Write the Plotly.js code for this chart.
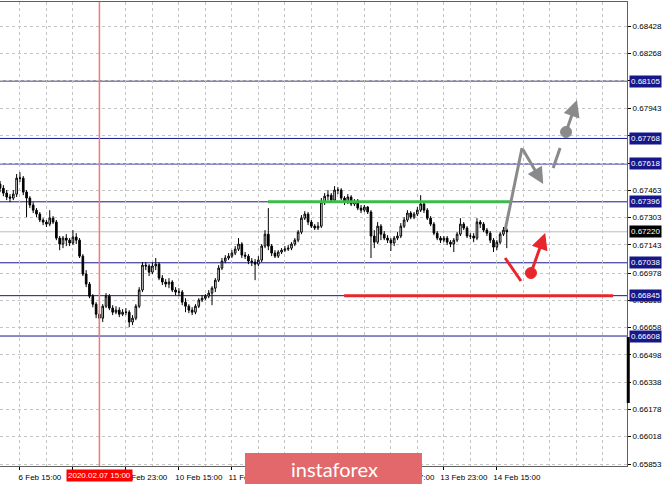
<!DOCTYPE html>
<html><head><meta charset="utf-8">
<script src="https://cdn.plot.ly/plotly-3.0.1.min.js"></script>
<style>html,body{margin:0;padding:0;background:#fff;}#chart{width:665px;height:484px;}</style>
</head><body><div id="chart"></div>
<script>
// Hourly candles, 6 Feb 09:00 .. 14 Feb 17:00 (weekend skipped)
const openP = [0.67500,0.67476,0.67447,0.67424,0.67418,0.67441,0.67535,0.67535,0.67453,0.67418,
0.67377,0.67347,0.67324,0.67289,0.67277,0.67265,0.67300,0.67277,0.67183,0.67148,
0.67183,0.67171,0.67154,0.67189,0.67171,0.67077,0.66972,0.66913,0.66842,0.66795,
0.66736,0.66713,0.66783,0.66842,0.66772,0.66748,0.66760,0.66736,0.66748,0.66748,
0.66690,0.66713,0.66783,0.66878,0.67024,0.67019,0.66983,0.67019,0.67030,0.66948,
0.66925,0.66913,0.66925,0.66878,0.66866,0.66866,0.66807,0.66783,0.66760,0.66748,
0.66783,0.66819,0.66830,0.66842,0.66860,0.66889,0.66936,0.67007,0.67048,0.67066,
0.67077,0.67095,0.67118,0.67148,0.67083,0.67077,0.67048,0.67042,0.67030,0.67054,
0.67136,0.67206,0.67136,0.67095,0.67077,0.67101,0.67112,0.67118,0.67124,0.67148,
0.67171,0.67218,0.67300,0.67324,0.67277,0.67253,0.67242,0.67253,0.67394,0.67429,
0.67435,0.67406,0.67465,0.67465,0.67418,0.67394,0.67424,0.67383,0.67400,0.67359,
0.67347,0.67365,0.67336,0.67195,0.67159,0.67253,0.67206,0.67183,0.67171,0.67154,
0.67183,0.67195,0.67253,0.67289,0.67330,0.67306,0.67324,0.67347,0.67383,0.67347,
0.67300,0.67265,0.67212,0.67183,0.67171,0.67183,0.67159,0.67148,0.67171,0.67206,
0.67265,0.67242,0.67195,0.67195,0.67183,0.67277,0.67265,0.67230,0.67212,0.67171,
0.67130,0.67159,0.67206,0.67230];
const highP = [0.67518,0.67494,0.67465,0.67441,0.67465,0.67559,0.67570,0.67547,0.67465,0.67429,
0.67394,0.67359,0.67336,0.67300,0.67289,0.67347,0.67312,0.67289,0.67195,0.67195,
0.67206,0.67183,0.67230,0.67212,0.67183,0.67089,0.66995,0.66925,0.66854,0.66807,
0.66760,0.66795,0.66860,0.66854,0.66789,0.66783,0.66777,0.66766,0.66772,0.66760,
0.66731,0.66795,0.66895,0.67042,0.67042,0.67030,0.67042,0.67066,0.67042,0.66966,
0.66942,0.66948,0.66936,0.66895,0.66889,0.66878,0.66830,0.66795,0.66777,0.66795,
0.66830,0.66848,0.66854,0.66878,0.66901,0.66948,0.67024,0.67066,0.67083,0.67095,
0.67112,0.67136,0.67183,0.67159,0.67101,0.67089,0.67066,0.67060,0.67077,0.67148,
0.67230,0.67359,0.67148,0.67112,0.67112,0.67124,0.67136,0.67142,0.67159,0.67183,
0.67230,0.67318,0.67341,0.67336,0.67289,0.67265,0.67277,0.67418,0.67447,0.67465,
0.67447,0.67488,0.67482,0.67476,0.67429,0.67441,0.67435,0.67412,0.67412,0.67377,
0.67377,0.67371,0.67347,0.67230,0.67277,0.67265,0.67224,0.67200,0.67183,0.67195,
0.67218,0.67271,0.67306,0.67347,0.67341,0.67336,0.67365,0.67435,0.67394,0.67359,
0.67312,0.67277,0.67224,0.67195,0.67195,0.67195,0.67171,0.67183,0.67218,0.67300,
0.67277,0.67253,0.67212,0.67212,0.67300,0.67289,0.67277,0.67242,0.67224,0.67183,
0.67171,0.67218,0.67248,0.67242];
const lowP = [0.67453,0.67429,0.67406,0.67394,0.67406,0.67424,0.67512,0.67435,0.67306,0.67359,
0.67330,0.67306,0.67277,0.67259,0.67248,0.67253,0.67265,0.67171,0.67112,0.67124,
0.67136,0.67136,0.67142,0.67148,0.67066,0.66960,0.66895,0.66830,0.66777,0.66713,
0.66613,0.66690,0.66772,0.66760,0.66731,0.66736,0.66719,0.66725,0.66731,0.66660,
0.66672,0.66701,0.66772,0.66866,0.66995,0.66960,0.66972,0.66995,0.66936,0.66907,
0.66895,0.66889,0.66866,0.66848,0.66842,0.66789,0.66748,0.66742,0.66731,0.66736,
0.66772,0.66807,0.66819,0.66830,0.66789,0.66866,0.66925,0.66995,0.67036,0.67054,
0.67066,0.67083,0.67107,0.67066,0.67060,0.67030,0.67019,0.66936,0.67019,0.67042,
0.67124,0.67112,0.67077,0.67066,0.67066,0.67089,0.67101,0.67107,0.67112,0.67136,
0.67159,0.67206,0.67289,0.67259,0.67242,0.67230,0.67230,0.67242,0.67377,0.67406,
0.67394,0.67394,0.67441,0.67406,0.67377,0.67383,0.67371,0.67371,0.67347,0.67330,
0.67336,0.67324,0.67066,0.67124,0.67148,0.67171,0.67171,0.67154,0.67107,0.67136,
0.67171,0.67183,0.67242,0.67277,0.67294,0.67294,0.67312,0.67336,0.67330,0.67289,
0.67253,0.67200,0.67171,0.67154,0.67159,0.67142,0.67130,0.67101,0.67159,0.67195,
0.67230,0.67183,0.67177,0.67159,0.67171,0.67242,0.67218,0.67195,0.67154,0.67101,
0.67112,0.67148,0.67195,0.67124];
const closeP = [0.67476,0.67447,0.67424,0.67418,0.67441,0.67535,0.67535,0.67453,0.67418,0.67377,
0.67347,0.67324,0.67289,0.67277,0.67265,0.67300,0.67277,0.67183,0.67148,0.67183,
0.67171,0.67154,0.67189,0.67171,0.67077,0.66972,0.66913,0.66842,0.66795,0.66736,
0.66713,0.66783,0.66842,0.66772,0.66748,0.66760,0.66736,0.66748,0.66748,0.66690,
0.66713,0.66783,0.66878,0.67024,0.67019,0.66983,0.67019,0.67030,0.66948,0.66925,
0.66913,0.66925,0.66878,0.66866,0.66866,0.66807,0.66783,0.66760,0.66748,0.66783,
0.66819,0.66830,0.66842,0.66860,0.66889,0.66936,0.67007,0.67048,0.67066,0.67077,
0.67095,0.67118,0.67148,0.67083,0.67077,0.67048,0.67042,0.67030,0.67054,0.67136,
0.67206,0.67136,0.67095,0.67077,0.67101,0.67112,0.67118,0.67124,0.67148,0.67171,
0.67218,0.67300,0.67324,0.67277,0.67253,0.67242,0.67253,0.67394,0.67429,0.67435,
0.67406,0.67465,0.67465,0.67418,0.67394,0.67424,0.67383,0.67400,0.67359,0.67347,
0.67365,0.67336,0.67195,0.67159,0.67253,0.67206,0.67183,0.67171,0.67154,0.67183,
0.67195,0.67253,0.67289,0.67330,0.67306,0.67324,0.67347,0.67383,0.67347,0.67300,
0.67265,0.67212,0.67183,0.67171,0.67183,0.67159,0.67148,0.67171,0.67206,0.67265,
0.67242,0.67195,0.67195,0.67183,0.67277,0.67265,0.67230,0.67212,0.67171,0.67130,
0.67159,0.67206,0.67230,0.67220];

// time tick labels (labels fully hidden under the date box / watermark in the reference left blank)
const timeTickIndex = [6,22,38,54,70,86,102,118,134,150];
const timeTickLabels = ["6 Feb 15:00","","7 Feb 23:00","10 Feb 15:00","11 Feb 07:00",
  "11 Feb 23:00","","13 Feb 07:00","13 Feb 23:00","14 Feb 15:00"];
const priceTicks = [0.68428,0.68268,0.68108,0.67943,0.67783,0.67623,0.67463,0.67303,0.67143,
  0.66978,0.66818,0.66658,0.66498,0.66338,0.66178,0.66018,0.65853];
const priceTickLabels = ["0.68428","0.68268","","0.67943","","","0.67463","0.67303","0.67143",
  "0.66978","0.66818","0.66658","0.66498","0.66338","0.66178","0.66018","0.65853"];
const levels = [0.68105,0.67768,0.67618,0.67396,0.67038,0.66845,0.66608];
const levelLabels = ["0.68105","0.67768","0.67618","0.67396","0.67038","0.66845","0.66608"];
const currentPrice = 0.67220;
const currentLabel = "0.67220";
const markerTimeIndex = 30;
const markerTimeLabel = "2020.02.07 15:00";

const idx = openP.map((_, i) => i);

const NAVY = '#17178a';
const GRAY = '#8a8a8a';
const RED = '#e8262c';
const GRID = '#c4c4c4';
const FONT = 'Liberation Sans, Arial, sans-serif';

const shapes = [];
levels.forEach(v => shapes.push({type:'line', xref:'paper', x0:0, x1:1, yref:'y', y0:v, y1:v,
  line:{color:NAVY, width:1}, layer:'below'}));
shapes.push({type:'line', xref:'paper', x0:0, x1:1, yref:'y', y0:currentPrice, y1:currentPrice,
  line:{color:'#bdbdbd', width:1}, layer:'below'});
shapes.push({type:'line', xref:'x', x0:markerTimeIndex, x1:markerTimeIndex, yref:'paper', y0:0, y1:1,
  line:{color:'#f47a7a', width:1.5}, layer:'above'});
shapes.push({type:'line', xref:'x', x0:80.9, x1:154.0, yref:'y', y0:0.67396, y1:0.67396,
  line:{color:'#3dbb4a', width:3}, layer:'above'});
shapes.push({type:'line', xref:'x', x0:103.9, x1:185.1, yref:'y', y0:0.66845, y1:0.66845,
  line:{color:RED, width:3}, layer:'above'});
shapes.push({type:'line', xref:'x', yref:'y', x0:152.5, y0:0.67230, x1:157.6, y1:0.67712,
  line:{color:GRAY, width:3}, layer:'above'});
shapes.push({type:'line', xref:'x', yref:'y', x0:167.0, y0:0.67594, x1:169.1, y1:0.67712,
  line:{color:GRAY, width:3}, layer:'above'});
shapes.push({type:'circle', xref:'x', yref:'y', xsizemode:'pixel', ysizemode:'pixel',
  xanchor:170.9, yanchor:0.67806, x0:-5.5, x1:5.5, y0:-5.5, y1:5.5,
  fillcolor:GRAY, line:{color:GRAY, width:1}, layer:'above'});
shapes.push({type:'line', xref:'x', yref:'y', x0:152.5, y0:0.67066, x1:157.3, y1:0.66931,
  line:{color:RED, width:3}, layer:'above'});
shapes.push({type:'circle', xref:'x', yref:'y', xsizemode:'pixel', ysizemode:'pixel',
  xanchor:160.3, yanchor:0.66978, x0:-5.5, x1:5.5, y0:-5.5, y1:5.5,
  fillcolor:RED, line:{color:RED, width:1}, layer:'above'});
shapes.push({type:'line', xref:'paper', x0:1.002, x1:1.002, yref:'y', y0:0.66602, y1:0.66215,
  line:{color:'#000', width:3}, layer:'above'});
shapes.push({type:'rect', xref:'paper', yref:'paper', x0:0.3907, x1:0.6730, y0:-0.045, y1:0.028,
  fillcolor:'#e2686c', line:{width:0}, layer:'above'});

const annotations = [];
const arrow = (x0,y0,x1,y1,color) => ({xref:'x', yref:'y', axref:'x', ayref:'y', x:x1, y:y1, ax:x0, ay:y0,
  text:'', showarrow:true, arrowhead:2, arrowsize:1.1, arrowwidth:3, arrowcolor:color, standoff:0, startstandoff:0});
annotations.push(arrow(157.6,0.67712,164.0,0.67500,GRAY));
annotations.push(arrow(170.9,0.67806,174.2,0.67993,GRAY));
annotations.push(arrow(160.3,0.66978,164.6,0.67213,RED));

levels.forEach((v,i) => annotations.push({xref:'paper', x:1, xanchor:'left', xshift:2, yref:'y', y:v,
  yanchor:'middle', text:levelLabels[i], showarrow:false, bgcolor:NAVY, borderpad:1,
  font:{family:FONT, size:8, color:'#fff'}}));
annotations.push({xref:'paper', x:1, xanchor:'left', xshift:2, yref:'y', y:currentPrice,
  yanchor:'middle', text:currentLabel, showarrow:false, bgcolor:'#000', borderpad:1,
  font:{family:FONT, size:8, color:'#fff'}});
annotations.push({xref:'x', x:markerTimeIndex, xanchor:'center', yref:'paper', y:-0.0195, yanchor:'middle',
  text:markerTimeLabel, showarrow:false, bgcolor:'#ff0000', borderpad:1,
  font:{family:FONT, size:8, color:'#fff'}});
annotations.push({xref:'paper', x:0.5327, xanchor:'center', yref:'paper', y:-0.006, yanchor:'middle',
  text:'instaforex', showarrow:false, font:{family:'Lato, Open Sans, sans-serif', size:20, color:'#fff'}});

const trace = {
  type:'candlestick', x:idx, open:openP, high:highP, low:lowP, close:closeP,
  increasing:{line:{color:'#000', width:1}, fillcolor:'#ffffff'},
  decreasing:{line:{color:'#000', width:1}, fillcolor:'#000000'},
  whiskerwidth:0, hoverinfo:'skip', showlegend:false
};

const layout = {
  width:665, height:484,
  margin:{l:0, r:38, t:2, b:18},
  paper_bgcolor:'#fff', plot_bgcolor:'#fff',
  showlegend:false,
  font:{family:FONT, size:8, color:'#000'},
  xaxis:{
    range:[-0.02,189.3], tickmode:'array', tickvals:timeTickIndex, ticktext:timeTickLabels,
    ticks:'outside', ticklen:3, tickcolor:'#000', ticklabelshift:20,
    showgrid:true, gridcolor:GRID, griddash:'3px,3px', gridwidth:1,
    minor:{tickmode:'linear', tick0:-2, dtick:8, showgrid:true, gridcolor:GRID, griddash:'3px,3px', ticks:''},
    showline:true, linecolor:'#606060', linewidth:1, mirror:true, zeroline:false,
    rangeslider:{visible:false}, tickfont:{family:FONT, size:8, color:'#000'}, fixedrange:true
  },
  yaxis:{
    side:'right', range:[0.65845,0.68569], tickmode:'array', tickvals:priceTicks, ticktext:priceTickLabels,
    ticks:'outside', ticklen:3, tickcolor:'#000',
    showgrid:true, gridcolor:GRID, griddash:'3px,3px', gridwidth:1,
    showline:true, linecolor:'#606060', linewidth:1, zeroline:false,
    tickfont:{family:FONT, size:8, color:'#000'}, fixedrange:true
  },
  shapes:shapes, annotations:annotations
};

Plotly.newPlot('chart', [trace], layout, {staticPlot:true, displayModeBar:false});
</script></body></html>
